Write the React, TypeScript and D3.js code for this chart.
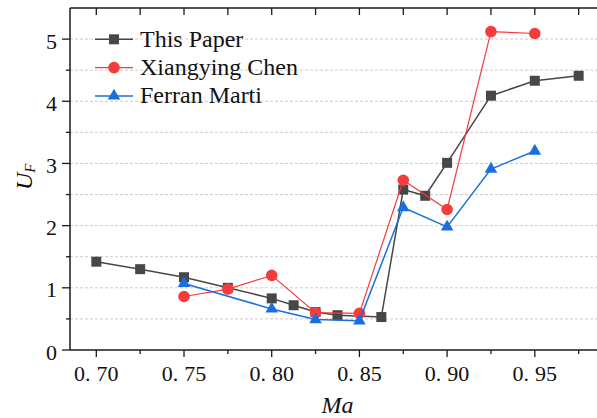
import React from "react";
import * as d3 from "d3";

// Mach number sweep and factor U_F for each source
const maThisPaper = [0.7, 0.725, 0.75, 0.775, 0.8, 0.8125, 0.825, 0.8375, 0.8625, 0.875, 0.8875, 0.9, 0.925, 0.95, 0.975];
const ufThisPaper = [1.42, 1.3, 1.17, 1.0, 0.83, 0.72, 0.61, 0.56, 0.53, 2.58, 2.48, 3.01, 4.09, 4.33, 4.41];

const maChen = [0.75, 0.775, 0.8, 0.825, 0.85, 0.875, 0.9, 0.925, 0.95];
const ufChen = [0.86, 0.98, 1.2, 0.6, 0.59, 2.73, 2.26, 5.12, 5.09];

const maMarti = [0.75, 0.8, 0.825, 0.85, 0.875, 0.9, 0.925, 0.95];
const ufMarti = [1.07, 0.66, 0.49, 0.47, 2.29, 1.98, 2.91, 3.2];

const seriesNames = ["This Paper", "Xiangying Chen", "Ferran Marti"];
const xTicks = [0.7, 0.75, 0.8, 0.85, 0.9, 0.95];
const yTicks = [0, 1, 2, 3, 4, 5];

const W = 597;
const H = 418;
const left = 70;
const top = 8;
const bottom = 350;

const x = d3.scaleLinear().domain([0.685, 1.0]).range([left, left + 0.315 * 1754]);
const y = d3.scaleLinear().domain([0, 5.5]).range([bottom, top]);

const serif = "'Liberation Serif', 'DejaVu Serif', serif";
const colors = ["#474747", "#F43C3C", "#1A6FDF"];
const symbols = [d3.symbolSquare, d3.symbolCircle, d3.symbolTriangle];
const symbolSizes = [100, 105, 68];
const strokeWidths = [1.5, 1.2, 1.5];

const data = [
  { xs: maThisPaper, ys: ufThisPaper },
  { xs: maChen, ys: ufChen },
  { xs: maMarti, ys: ufMarti },
];

function Marker({ i, cx, cy }: { i: number; cx: number; cy: number }) {
  const path = d3.symbol().type(symbols[i]).size(symbolSizes[i])() || "";
  return <path d={path} transform={`translate(${cx},${cy})`} fill={colors[i]} />;
}

export default function App() {
  const line = d3
    .line<[number, number]>()
    .x((d) => x(d[0]))
    .y((d) => y(d[1]));

  const minorX = d3.range(0.7, 0.99, 0.025);
  const gridY = d3.range(0.5, 5.01, 0.5);
  const minorY = d3.range(0.5, 5.5, 1);
  const [x0, x1] = x.range();

  return (
    <svg
      width={W}
      height={H}
      style={{ position: "absolute", left: 0, top: 0, background: "#fff", fontFamily: serif }}
    >
      {/* horizontal grid */}
      {gridY.map((v) => (
        <line key={v} x1={x0} x2={x1} y1={y(v)} y2={y(v)} stroke="#cbcbcb" strokeWidth={1} strokeDasharray="3,2" />
      ))}

      {/* series */}
      {data.map((s, i) => {
        const pts = s.xs.map((v, k) => [v, s.ys[k]] as [number, number]);
        return (
          <g key={i}>
            <path d={line(pts) || ""} fill="none" stroke={colors[i]} strokeWidth={strokeWidths[i]} />
            {pts.map((p, k) => (
              <Marker key={k} i={i} cx={x(p[0])} cy={y(p[1])} />
            ))}
          </g>
        );
      })}

      {/* frame */}
      <line x1={x0} x2={x1} y1={bottom} y2={bottom} stroke="#1a1a1a" strokeWidth={1.5} />
      <line x1={x0} x2={x1} y1={top} y2={top} stroke="#1a1a1a" strokeWidth={1.5} />
      <line x1={left} x2={left} y1={top} y2={bottom} stroke="#1a1a1a" strokeWidth={1.5} />

      {/* x ticks */}
      {minorX.map((v, k) => {
        const major = k % 2 === 0;
        return (
          <g key={k}>
            <line x1={x(v)} x2={x(v)} y1={bottom} y2={bottom + (major ? 7 : 4)} stroke="#1a1a1a" strokeWidth={1.3} />
            <line x1={x(v)} x2={x(v)} y1={top} y2={top + 7} stroke="#1a1a1a" strokeWidth={1.3} />
          </g>
        );
      })}
      {xTicks.map((v) => {
        const s = v.toFixed(2);
        const [a, b] = s.split(".");
        return (
          <text key={v} x={x(v)} y={381} fontSize={22} textAnchor="middle" fill="#111">
            <tspan>{a + "."}</tspan>
            <tspan dx={6}>{b}</tspan>
          </text>
        );
      })}

      {/* y ticks */}
      {yTicks.map((v) => (
        <g key={v}>
          <line x1={left - 8} x2={left} y1={y(v)} y2={y(v)} stroke="#1a1a1a" strokeWidth={1.3} />
          <text x={57} y={y(v) + 9.5} fontSize={22} textAnchor="end" fill="#111">
            {v}
          </text>
        </g>
      ))}
      {minorY.map((v) => (
        <line key={v} x1={left - 4} x2={left} y1={y(v)} y2={y(v)} stroke="#1a1a1a" strokeWidth={1.3} />
      ))}

      {/* axis titles */}
      <text x={337.5} y={413} fontSize={24} fontStyle="italic" textAnchor="middle" fill="#111">
        Ma
      </text>
      <text transform="translate(32,190) rotate(-90)" fontSize={24} fontStyle="italic" fill="#111">
        U
        <tspan fontSize={15} dy={3}>
          F
        </tspan>
      </text>

      {/* legend */}
      {seriesNames.map((name, i) => {
        const cy = 39.3 + i * 28.3;
        return (
          <g key={name}>
            <line x1={95} x2={133} y1={cy} y2={cy} stroke={colors[i]} strokeWidth={strokeWidths[i]} />
            <Marker i={i} cx={114} cy={cy} />
            <text x={140} y={cy + 7.5} fontSize={24} fill="#111">
              {name}
            </text>
          </g>
        );
      })}
    </svg>
  );
}
